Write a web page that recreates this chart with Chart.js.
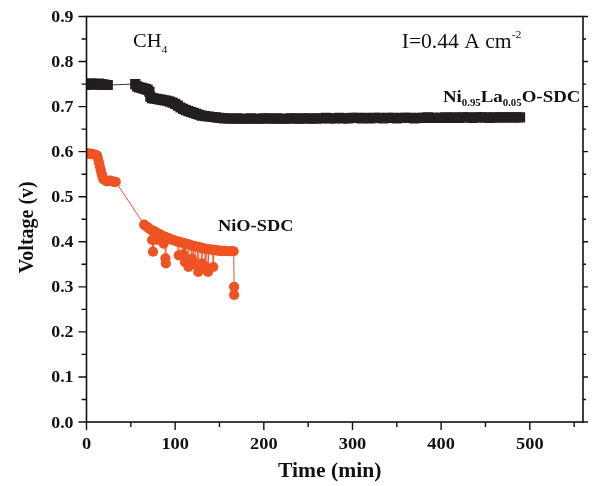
<!DOCTYPE html>
<html>
<head>
<meta charset="utf-8">
<script src="https://cdn.jsdelivr.net/npm/chart.js@4.4.0/dist/chart.umd.min.js"></script>
<style>
  html, body { margin: 0; padding: 0; background: #ffffff; }
  #wrap { width: 592px; height: 486px; }
</style>
</head>
<body>
<div id="wrap"><canvas id="c" width="592" height="486"></canvas></div>
<script>
// Ni0.95La0.05O-SDC anode: time (min) and cell voltage (V)
const laTime = [
  0, 2, 4, 6, 8, 10, 12, 14, 16, 18, 20, 22, 24,
  55, 57, 59, 61, 63, 65, 67, 69, 71,
  72, 74, 76, 79, 82, 85, 88, 91, 94, 97, 100, 103, 106, 109, 112, 115, 118, 121, 124, 127, 130,
  134, 138, 142, 146, 150, 155, 160,
  165, 170, 175, 180, 185, 190, 195, 200, 205, 210, 215, 220, 225, 230, 235, 240, 245, 250,
  255, 260, 265, 270, 275, 280, 285, 290, 295, 300, 305, 310, 315, 320, 325, 330, 335, 340,
  345, 350, 355, 360, 365, 370, 375, 380, 385, 390, 395, 400, 405, 410, 415, 420, 425, 430,
  435, 440, 445, 450, 455, 460, 465, 470, 475, 480, 485, 489
];
const laVoltage = [
  0.748, 0.750, 0.751, 0.751, 0.750, 0.749, 0.750, 0.751, 0.750, 0.749, 0.749, 0.748, 0.748,
  0.750, 0.745, 0.743, 0.742, 0.741, 0.740, 0.739, 0.737, 0.733,
  0.722, 0.719, 0.718, 0.717, 0.716, 0.715, 0.714, 0.713, 0.711, 0.709, 0.706, 0.702, 0.698, 0.695, 0.692, 0.690, 0.688, 0.686, 0.684, 0.682, 0.680,
  0.679, 0.678, 0.677, 0.676, 0.675, 0.674, 0.674,
  0.673, 0.674, 0.673, 0.673, 0.674, 0.673, 0.673, 0.674, 0.674, 0.673, 0.674, 0.673, 0.673, 0.674, 0.674, 0.673, 0.674, 0.674,
  0.673, 0.674, 0.674, 0.675, 0.674, 0.674, 0.675, 0.674, 0.674, 0.675, 0.675, 0.674, 0.675, 0.674, 0.675, 0.675, 0.674, 0.675,
  0.675, 0.674, 0.675, 0.675, 0.675, 0.674, 0.675, 0.675, 0.676, 0.675, 0.675, 0.675, 0.676, 0.675, 0.676, 0.675, 0.676, 0.676,
  0.675, 0.676, 0.676, 0.676, 0.675, 0.676, 0.676, 0.676, 0.676, 0.676, 0.676, 0.676
];

// NiO-SDC anode: time (min) and cell voltage (V)
const nioTime = [
  0, 2, 4, 6, 8, 10, 12, 13, 14, 15, 16, 17, 18, 19, 21, 23, 25, 27, 29, 31, 33,
  65, 67, 69, 71, 73, 74, 75, 76, 78, 79, 80, 82, 84, 86, 87, 88, 89, 89.5, 90, 92, 94, 96, 98,
  100, 102, 104, 105, 107, 109, 110, 111, 112, 114, 115, 116, 118, 119, 120, 122, 123, 125, 126,
  127, 129, 130, 131, 133, 134, 135, 137, 138, 140, 142, 143, 144, 146, 148, 150, 152, 154, 156,
  158, 160, 162, 164, 166, 166.5, 166.5
];
const nioVoltage = [
  0.596, 0.596, 0.595, 0.595, 0.594, 0.593, 0.591, 0.584, 0.576, 0.568, 0.560, 0.552, 0.545, 0.539, 0.536, 0.534, 0.535, 0.536, 0.534, 0.533, 0.533,
  0.438, 0.435, 0.432, 0.429, 0.426, 0.404, 0.378, 0.424, 0.421, 0.404, 0.419, 0.417, 0.415, 0.413, 0.396, 0.411, 0.363, 0.352, 0.410, 0.408, 0.407, 0.405, 0.404,
  0.402, 0.401, 0.370, 0.400, 0.398, 0.372, 0.397, 0.355, 0.396, 0.395, 0.344, 0.394, 0.392, 0.362, 0.391, 0.350, 0.390, 0.389, 0.333,
  0.388, 0.387, 0.352, 0.386, 0.385, 0.345, 0.384, 0.333, 0.383, 0.383, 0.382, 0.344, 0.382, 0.381, 0.381, 0.380, 0.380, 0.380, 0.380,
  0.379, 0.379, 0.379, 0.379, 0.379, 0.300, 0.282
];

// Axis tick values
const xTicks = [0, 100, 200, 300, 400, 500];
const yTicks = [0.0, 0.1, 0.2, 0.3, 0.4, 0.5, 0.6, 0.7, 0.8, 0.9];

const toPoints = (xs, ys) => xs.map((x, i) => ({ x, y: ys[i] }));

const SERIF = '"Liberation Serif", "Times New Roman", Times, serif';
const STRETCH = 1.08;

// Draws a run of text segments (base / subscript / superscript) left to right.
function drawRuns(ctx, x, y, runs, align) {
  ctx.save();
  ctx.textBaseline = 'alphabetic';
  ctx.textAlign = 'left';
  let total = 0;
  runs.forEach(r => { ctx.font = r.font; total += ctx.measureText(r.text).width; });
  ctx.translate(x, y);
  ctx.scale(STRETCH, 1);
  let cx = align === 'center' ? -total / 2 : (align === 'right' ? -total : 0);
  runs.forEach(r => {
    ctx.font = r.font;
    ctx.fillText(r.text, cx, r.dy || 0);
    cx += ctx.measureText(r.text).width;
  });
  ctx.restore();
}

const framePlugin = {
  id: 'frame',
  afterDraw(chart) {
    const { ctx, chartArea: a } = chart;
    const xs = chart.scales.x, ys = chart.scales.y;
    ctx.save();
    ctx.strokeStyle = '#111';
    ctx.fillStyle = '#111';

    // frame
    ctx.lineWidth = 1.6;
    ctx.strokeRect(a.left, a.top, a.right - a.left, a.bottom - a.top);

    // tick marks
    ctx.lineWidth = 1.4;
    ctx.beginPath();
    yTicks.forEach((v, i) => {
      const py = ys.getPixelForValue(v);
      ctx.moveTo(a.left, py); ctx.lineTo(a.left - 8, py);
      ctx.moveTo(a.right, py); ctx.lineTo(a.right + 5, py);
      if (i < yTicks.length - 1) {
        const pm = ys.getPixelForValue((v + yTicks[i + 1]) / 2);
        ctx.moveTo(a.left, pm); ctx.lineTo(a.left - 5, pm);
        ctx.moveTo(a.right, pm); ctx.lineTo(a.right + 3, pm);
      }
    });
    xTicks.forEach((v, i) => {
      const px = xs.getPixelForValue(v);
      ctx.moveTo(px, a.bottom); ctx.lineTo(px, a.bottom + 8);
      const next = i < xTicks.length - 1 ? xTicks[i + 1] : v + (v - xTicks[i - 1]);
      const mid = (v + next) / 2;
      if (mid < xs.max) {
        const pm = xs.getPixelForValue(mid);
        ctx.moveTo(pm, a.bottom); ctx.lineTo(pm, a.bottom + 5);
      }
    });
    ctx.stroke();

    // tick labels
    const tickFont = 'bold 16.5px ' + SERIF;
    yTicks.forEach(v => {
      drawRuns(ctx, a.left - 13, ys.getPixelForValue(v) + 5.5, [{ text: v.toFixed(1), font: tickFont }], 'right');
    });
    const xFont = 'bold 17px ' + SERIF;
    xTicks.forEach(v => {
      drawRuns(ctx, xs.getPixelForValue(v), a.bottom + 27, [{ text: String(v), font: xFont }], 'center');
    });

    // axis titles
    const titleFont = 'bold 20px ' + SERIF;
    drawRuns(ctx, (a.left + a.right) / 2 - 5, 476.5, [{ text: 'Time (min)', font: titleFont }], 'center');
    ctx.save();
    ctx.translate(33, (a.top + a.bottom) / 2 + 8);
    ctx.rotate(-Math.PI / 2);
    ctx.scale(1, STRETCH);
    ctx.font = titleFont;
    ctx.textAlign = 'center';
    ctx.textBaseline = 'alphabetic';
    ctx.fillText('Voltage (v)', 0, 0);
    ctx.restore();

    // annotations
    const reg = (s) => s + 'px ' + SERIF;
    drawRuns(ctx, xs.getPixelForValue(52.4), ys.getPixelForValue(0.832), [
      { text: 'CH', font: reg(19) },
      { text: '4', font: reg(11), dy: 6 }
    ], 'left');
    drawRuns(ctx, xs.getPixelForValue(355.5), ys.getPixelForValue(0.829), [
      { text: 'I=0.44 A cm', font: reg(20) },
      { text: '-2', font: reg(11), dy: -10 }
    ], 'left');
    const lb = (s) => 'bold ' + s + 'px ' + SERIF;
    drawRuns(ctx, xs.getPixelForValue(402), ys.getPixelForValue(0.711), [
      { text: 'Ni', font: lb(17.5) },
      { text: '0.95', font: lb(10), dy: 4 },
      { text: 'La', font: lb(17.5) },
      { text: '0.05', font: lb(10), dy: 4 },
      { text: 'O-SDC', font: lb(17.5) }
    ], 'left');
    drawRuns(ctx, xs.getPixelForValue(148.3), ys.getPixelForValue(0.4235), [
      { text: 'NiO-SDC', font: lb(17) }
    ], 'left');

    ctx.restore();
  }
};

new Chart(document.getElementById('c'), {
  type: 'scatter',
  data: {
    datasets: [
      {
        label: 'Ni0.95La0.05O-SDC',
        data: toPoints(laTime, laVoltage),
        showLine: true,
        borderColor: '#3a3738',
        borderWidth: 1,
        backgroundColor: '#231f20',
        pointStyle: 'rect',
        pointRadius: 7.2,
        pointBorderWidth: 0,
        pointHoverRadius: 7.2,
        tension: 0,
        clip: 0
      },
      {
        label: 'NiO-SDC',
        data: toPoints(nioTime, nioVoltage),
        showLine: true,
        borderColor: '#ef5323',
        borderWidth: 1,
        backgroundColor: '#ef5323',
        pointStyle: 'circle',
        pointRadius: 5.1,
        pointBorderWidth: 0,
        pointHoverRadius: 5.1,
        tension: 0,
        clip: 0
      }
    ]
  },
  options: {
    responsive: false,
    animation: false,
    devicePixelRatio: 1,
    layout: { padding: { top: 16.5, right: 9, left: 0, bottom: 0 } },
    plugins: {
      legend: { display: false },
      tooltip: { enabled: false },
      title: { display: false }
    },
    scales: {
      x: {
        type: 'linear',
        min: 0,
        max: 560,
        grid: { display: false, drawTicks: false },
        border: { display: false },
        ticks: { display: false },
        afterFit: (s) => { s.height = 64; }
      },
      y: {
        type: 'linear',
        min: 0,
        max: 0.9,
        grid: { display: false, drawTicks: false },
        border: { display: false },
        ticks: { display: false },
        afterFit: (s) => { s.width = 86.5; }
      }
    }
  },
  plugins: [framePlugin]
});
</script>
</body>
</html>
